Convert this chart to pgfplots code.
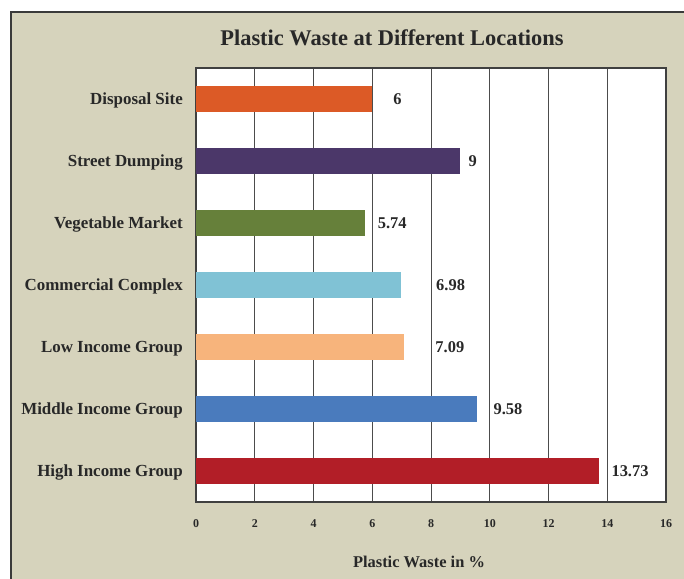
\documentclass[border=0pt]{standalone}
\usepackage{pgfplots}
\pgfplotsset{compat=1.18}
\usepackage{fontspec}
\setmainfont{Liberation Serif}

\definecolor{panel}{RGB}{214,211,188}
\definecolor{panelline}{RGB}{58,58,58}
\definecolor{txt}{RGB}{40,40,40}
\definecolor{cDisp}{RGB}{220,90,38}
\definecolor{cStreet}{RGB}{75,55,105}
\definecolor{cVeg}{RGB}{102,128,58}
\definecolor{cComm}{RGB}{128,194,213}
\definecolor{cLow}{RGB}{247,180,124}
\definecolor{cMid}{RGB}{74,123,189}
\definecolor{cHigh}{RGB}{178,30,39}

\begin{document}
\begin{tikzpicture}[x=1bp,y=1bp]
\path[use as bounding box] (0,0) rectangle (684,579);
\fill[white] (0,0) rectangle (684,579);
% beige panel behind the chart
\fill[panel] (11,0) rectangle (684,567);
\draw[panelline, line width=1.3bp] (11,0) -- (11,567) -- (684,567);

\node[font=\bfseries\fontsize{22.5}{26}\selectfont, text=txt] at (392,541)
  {Plastic Waste at Different Locations};

\begin{axis}[
  at={(196bp,77bp)}, anchor=south west,
  scale only axis, width=470bp, height=434bp,
  xmin=0, xmax=16, ymin=-0.5, ymax=6.5,
  xbar, bar width=26bp, bar shift=0pt,
  xtick={0,2,...,16}, ytick={0,...,6},
  yticklabels={High Income Group, Middle Income Group, Low Income Group,
    Commercial Complex, Vegetable Market, Street Dumping, Disposal Site},
  xmajorgrids,
  major grid style={gray!60!black, line width=1bp},
  major tick length=0pt,
  axis background/.style={fill=white},
  axis line style={black!75, line width=1.3bp},
  /pgf/number format/assume math mode=true,
  xticklabel style={font=\bfseries\fontsize{12}{14}\selectfont, text=txt,
    inner sep=0pt, anchor=north, yshift=-17bp},
  yticklabel style={font=\bfseries\fontsize{17}{20}\selectfont, text=txt,
    inner sep=0pt, anchor=base east, xshift=-13bp, yshift=-5.5bp},
  nodes near coords,
  every node near coord/.append style={font=\bfseries\fontsize{16.5}{20}\selectfont,
    text=txt, inner sep=0pt, anchor=base west, yshift=-5.5bp},
]
\addplot[fill=cHigh, draw=none, every node near coord/.append style={xshift=12bp}]
  coordinates {(13.73,0)};
\addplot[fill=cMid, draw=none, every node near coord/.append style={xshift=16bp}]
  coordinates {(9.58,1)};
\addplot[fill=cLow, draw=none, every node near coord/.append style={xshift=31bp}]
  coordinates {(7.09,2)};
\addplot[fill=cComm, draw=none, every node near coord/.append style={xshift=35bp}]
  coordinates {(6.98,3)};
\addplot[fill=cVeg, draw=none, every node near coord/.append style={xshift=13bp}]
  coordinates {(5.74,4)};
\addplot[fill=cStreet, draw=none, every node near coord/.append style={xshift=8bp}]
  coordinates {(9,5)};
\addplot[fill=cDisp, draw=none, every node near coord/.append style={xshift=21bp}]
  coordinates {(6,6)};
\end{axis}

\node[font=\bfseries\fontsize{16.5}{20}\selectfont, text=txt] at (419,17)
  {Plastic Waste in \%};
\end{tikzpicture}
\end{document}
